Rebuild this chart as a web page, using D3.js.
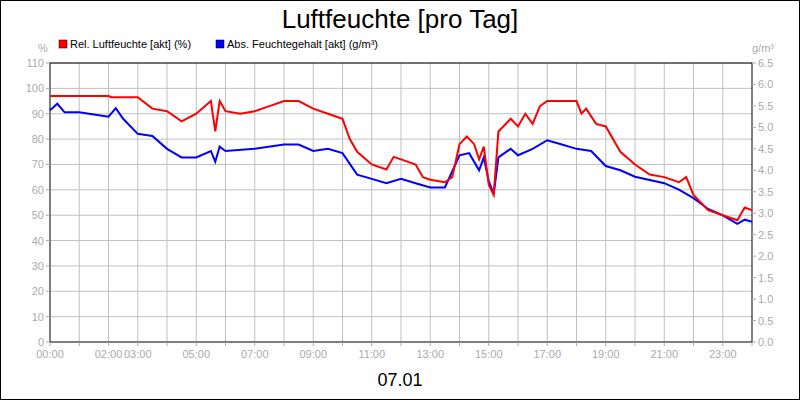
<!DOCTYPE html>
<html><head><meta charset="utf-8">
<script src="https://cdn.jsdelivr.net/npm/d3@7"></script>
<style>body{margin:0}svg{display:block;font-family:Arial,"Liberation Sans",sans-serif}</style>
</head><body><svg width="800" height="400"></svg>
<script>
const relTimes=[0,1,2,2.1,3,3.5,4,4.5,5,5.5,5.65,5.8,6,6.5,7,7.5,8,8.5,9,9.5,10,10.25,10.5,11,11.5,11.75,12,12.5,12.75,13,13.5,13.75,14,14.25,14.5,14.67,14.83,15,15.17,15.33,15.75,16,16.25,16.5,16.75,17,17.5,18,18.17,18.33,18.67,19,19.5,20,20.5,21,21.5,21.75,22,22.5,23,23.5,23.75,24];
const relValues=[97,97,97,96.5,96.5,92,91,87,90,95,83,95,91,90,91,93,95,95,92,90,88,80,75,70,68,73,72,70,65,64,63,65,78,81,78,72,77,62,58,83,88,85,90,86,93,95,95,95,90,92,86,85,75,70,66,65,63,65,58,52,50,48,53,52];
const absTimes=[0,0.25,0.5,1,1.5,2,2.25,2.5,3,3.5,4,4.5,5,5.5,5.65,5.8,6,7,8,8.5,9,9.5,10,10.5,11,11.5,12,12.5,13,13.5,14,14.33,14.67,14.83,15,15.17,15.33,15.75,16,16.5,17,17.5,18,18.5,19,19.5,20,21,21.5,22,22.5,23,23.5,23.75,24];
const absValues=[5.4,5.55,5.35,5.35,5.3,5.25,5.45,5.2,4.85,4.8,4.5,4.3,4.3,4.45,4.2,4.55,4.45,4.5,4.6,4.6,4.45,4.5,4.4,3.9,3.8,3.7,3.8,3.7,3.6,3.6,4.35,4.4,4.0,4.3,3.75,3.45,4.3,4.5,4.35,4.5,4.7,4.6,4.5,4.45,4.1,4.0,3.85,3.7,3.55,3.35,3.1,2.95,2.75,2.85,2.8];
const xTickHours=[0,2,3,5,7,9,11,13,15,17,19,21,23];
const leftTicks=d3.range(0,111,10);
const rightTicks=d3.range(0,6.51,0.5);

const svg=d3.select("svg");
svg.append("rect").attr("x",0.5).attr("y",0.5).attr("width",799).attr("height",399).attr("fill","#fff").attr("stroke","#000");
const L=50,R=752,T=63,B=342;
const x=d3.scaleLinear().domain([0,24]).range([L,R]);
const yl=d3.scaleLinear().domain([0,110]).range([B,T]);
const yr=d3.scaleLinear().domain([0,6.5]).range([B,T]);
const g=svg.append("g");
d3.range(1,24).forEach(h=>g.append("line").attr("x1",x(h)).attr("x2",x(h)).attr("y1",T).attr("y2",B).attr("stroke","#c0c0c0"));
leftTicks.slice(1).forEach(v=>g.append("line").attr("x1",L).attr("x2",R).attr("y1",yl(v)).attr("y2",yl(v)).attr("stroke","#c0c0c0"));
svg.append("rect").attr("x",L).attr("y",T).attr("width",R-L).attr("height",B-T).attr("fill","none").attr("stroke","#000");
const gray="#aaa";
leftTicks.forEach(v=>{svg.append("text").attr("x",L-6).attr("y",yl(v)+4).attr("text-anchor","end").attr("font-size",11).attr("fill",gray).text(v);
 svg.append("line").attr("x1",L-4).attr("x2",L).attr("y1",yl(v)).attr("y2",yl(v)).attr("stroke",gray);});
rightTicks.forEach(v=>{svg.append("text").attr("x",R+6).attr("y",yr(v)+4).attr("font-size",11).attr("fill",gray).text(v.toFixed(1));
 svg.append("line").attr("x1",R).attr("x2",R+4).attr("y1",yr(v)).attr("y2",yr(v)).attr("stroke",gray);});
d3.range(0,25).forEach(h=>svg.append("line").attr("x1",x(h)).attr("x2",x(h)).attr("y1",B).attr("y2",B+4).attr("stroke",gray));
xTickHours.forEach(h=>svg.append("text").attr("x",x(h)).attr("y",B+16).attr("text-anchor","middle").attr("font-size",11).attr("fill",gray).text(String(h).padStart(2,"0")+":00"));
svg.append("text").attr("x",38).attr("y",52).attr("font-size",11).attr("fill",gray).text("%");
svg.append("text").attr("x",752).attr("y",52).attr("font-size",11).attr("fill",gray).text("g/m³");
svg.append("text").attr("x",400).attr("y",28).attr("text-anchor","middle").attr("font-size",26).text("Luftfeuchte [pro Tag]");
svg.append("text").attr("x",400).attr("y",386).attr("text-anchor","middle").attr("font-size",18).text("07.01");
[[59,"#f00","Rel. Luftfeuchte [akt] (%)"],[216,"#00f","Abs. Feuchtegehalt [akt] (g/m³)"]].forEach(([lx,c,t])=>{
 svg.append("rect").attr("x",lx).attr("y",40).attr("width",8).attr("height",8).attr("fill",c).attr("stroke","#000").attr("stroke-width",0.5);
 svg.append("text").attr("x",lx+11).attr("y",48).attr("font-size",11).text(t);});
const line1=d3.line().x((d,i)=>x(relTimes[i])).y(d=>yl(d));
const line2=d3.line().x((d,i)=>x(absTimes[i])).y(d=>yr(d));
svg.append("path").attr("d",line2(absValues)).attr("fill","none").attr("stroke","#00f").attr("stroke-width",2);
svg.append("path").attr("d",line1(relValues)).attr("fill","none").attr("stroke","#f00").attr("stroke-width",2);
</script></body></html>
